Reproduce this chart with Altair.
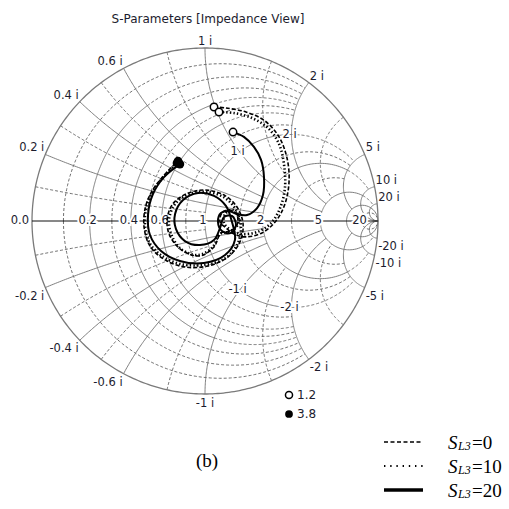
import numpy as np
import pandas as pd
import altair as alt

TITLE = "S-Parameters [Impedance View]"

# ---- Smith chart grid -------------------------------------------------------
# constant-resistance circles: value, |x| start, |x| end, line style
R_VAL = [0.1, 0.2, 0.2, 0.3, 0.4, 0.4, 0.5, 0.6, 0.6, 0.8, 1.0, 1.0, 1.5, 2.0, 2.0, 3.0, 5.0, 5.0, 10.0, 20.0]
R_LO  = [0.0, 0.0, 0.6, 0.0, 0.0, 1.0, 0.0, 0.0, 1.0, 0.0, 0.0, 2.0, 0.0, 0.0, 5.0, 0.0, 0.0, 10.0, 0.0, 0.0]
R_HI  = [2.0, 0.6, 2.0, 2.0, 1.0, 2.0, 2.0, 1.0, 2.0, 2.0, 2.0, 5.0, 5.0, 5.0, 10.0, 5.0, 10.0, 20.0, np.inf, np.inf]
R_STY = ["d", "s", "d", "d", "s", "d", "d", "s", "d", "d", "s", "d", "d", "s", "d", "d", "s", "d", "s", "d"]

# constant-reactance arcs: value, r start, r end, line style
X_VAL = [0.1, 0.2, 0.3, 0.4, 0.5, 0.6, 0.8, 1.0, 1.5, 2.0, 3.0, 5.0, 10.0, 20.0]
X_LO  = [0.0] * 14
X_HI  = [1.0, 2.0, 1.0, 2.0, 1.0, 2.0, 1.0, 5.0, 2.0, 5.0, 5.0, 10.0, np.inf, np.inf]
X_STY = ["d", "s", "d", "s", "d", "s", "d", "s", "d", "s", "d", "s", "s", "s"]

# labels
REAL_LABELS = ["0.0", "0.2", "0.4", "0.6", "1", "2", "5", "20"]
REAL_VALUES = [0.0, 0.2, 0.4, 0.6, 1.0, 2.0, 5.0, 20.0]
EDGE_X = [0.2, 0.4, 0.6, 1, 2, 5, 10, 20]
INNER_X = [1, 2, -1, -2]

# ---- S-parameter traces (reflection coefficient, real / imaginary) ---------
S0_RE = [0.052, 0.121, 0.237, 0.347, 0.428, 0.474, 0.486, 0.462, 0.410, 0.329, 0.237, 0.168, 0.121,
         0.087, 0.098, 0.145, 0.185, 0.185, 0.145, 0.092,
         0.052, -0.029, -0.127, -0.197, -0.220, -0.191, -0.110, 0.000, 0.110, 0.185, 0.220, 0.202,
         0.133, 0.017, -0.116, -0.231, -0.318, -0.353, -0.341, -0.295, -0.225, -0.156]
S0_IM = [0.659, 0.653, 0.630, 0.578, 0.486, 0.364, 0.231, 0.098, 0.000, -0.069, -0.092, -0.075, -0.040,
         -0.006, 0.046, 0.064, 0.035, -0.023, -0.058, -0.069,
         -0.150, -0.202, -0.173, -0.098, -0.006, 0.092, 0.156, 0.179, 0.150, 0.081, -0.017, -0.121,
         -0.208, -0.260, -0.266, -0.225, -0.145, -0.029, 0.092, 0.191, 0.277, 0.347]

S10_RE = [0.081, 0.168, 0.272, 0.364, 0.428, 0.457, 0.462, 0.434, 0.382, 0.301, 0.214, 0.150,
          0.110, 0.116, 0.156, 0.191, 0.185, 0.139, 0.087,
          0.040, -0.040, -0.139, -0.191, -0.208, -0.173, -0.092, 0.012, 0.116, 0.179, 0.208, 0.185,
          0.110, -0.006, -0.139, -0.249, -0.324, -0.347, -0.335, -0.289, -0.225, -0.162]
S10_IM = [0.630, 0.624, 0.595, 0.538, 0.445, 0.324, 0.191, 0.075, -0.012, -0.064, -0.075, -0.052,
          -0.012, 0.040, 0.064, 0.029, -0.029, -0.064, -0.075,
          -0.156, -0.197, -0.162, -0.087, 0.006, 0.098, 0.156, 0.168, 0.133, 0.064, -0.035, -0.139,
          -0.220, -0.254, -0.249, -0.202, -0.121, -0.017, 0.098, 0.191, 0.272, 0.335]

S20_RE = [0.162, 0.225, 0.283, 0.324, 0.341, 0.335, 0.301, 0.243, 0.185, 0.139,
          0.092, 0.075, 0.098, 0.150, 0.179, 0.156, 0.110, 0.087,
          0.052, -0.029, -0.116, -0.168, -0.173, -0.127, -0.040, 0.052, 0.121,
          0.156, 0.173, 0.116, -0.006, -0.145, -0.254, -0.318, -0.329, -0.301, -0.237, -0.145]
S20_IM = [0.514, 0.486, 0.428, 0.353, 0.254, 0.150, 0.075, 0.035, 0.040, 0.058,
          0.046, -0.006, -0.058, -0.069, -0.023, 0.029, 0.023, -0.040,
          -0.110, -0.139, -0.116, -0.046, 0.040, 0.121, 0.162, 0.145, 0.087,
          -0.006, -0.110, -0.197, -0.243, -0.231, -0.173, -0.081, 0.040, 0.156, 0.254, 0.329]

SERIES = [("S0", S0_RE, S0_IM), ("S10", S10_RE, S10_IM), ("S20", S20_RE, S20_IM)]


def gamma(z):
    return (z - 1) / (z + 1)


def sweep(lo, hi, n=160):
    t = np.linspace(np.arctan(lo), min(np.arctan(hi), np.pi / 2 - 1e-5), n)
    return np.tan(t)


grid_rows = []
seg_id = [0]


def add_seg(pts, style):
    for i, p in enumerate(pts):
        grid_rows.append({"gre": p.real, "gim": p.imag, "seg": seg_id[0], "i": i, "style": style})
    seg_id[0] += 1


for r, lo, hi, st in zip(R_VAL, R_LO, R_HI, R_STY):
    xs = sweep(lo, hi)
    add_seg(gamma(r + 1j * xs), st)
    add_seg(gamma(r - 1j * xs), st)

for xv, lo, hi, st in zip(X_VAL, X_LO, X_HI, X_STY):
    rs = sweep(lo, hi)
    add_seg(gamma(rs + 1j * xv), st)
    add_seg(gamma(rs - 1j * xv), st)

theta = np.linspace(0, 2 * np.pi, 400)
add_seg(np.exp(1j * theta), "outer")
add_seg(np.array([-1 + 0j, 1 + 0j]), "axis")

grid = pd.DataFrame(grid_rows)

xs_scale = alt.Scale(domain=[-205 / 173, 304 / 173], nice=False, zero=False)
ys_scale = alt.Scale(domain=[-288 / 173, 221 / 173], nice=False, zero=False)
X = alt.X("gre:Q", scale=xs_scale, axis=None)
Y = alt.Y("gim:Q", scale=ys_scale, axis=None)


def grid_layer(style, **kw):
    return alt.Chart(grid[grid["style"] == style]).mark_line(**kw).encode(
        x=X, y=Y, detail="seg:N", order="i:Q")


layers = [
    grid_layer("d", color="#4a4a4a", strokeWidth=0.8, strokeDash=[3, 2]),
    grid_layer("s", color="#707070", strokeWidth=0.9),
    grid_layer("outer", color="#7a7a7a", strokeWidth=1.3),
    grid_layer("axis", color="#111111", strokeWidth=1.0),
]

# ---- labels -----------------------------------------------------------------
TXT = "#1c1c2e"
FONT = "DejaVu Sans"
FS = 11.5


def fmt_x(v):
    return f"{v:g} i"


edge = []
for v in EDGE_X:
    for s in (1, -1):
        g = gamma(1j * v * s)
        if abs(g.real) < 1e-9:
            grp = "top" if s > 0 else "bottom"
        else:
            grp = ("L" if g.real < 0 else "R") + ("U" if s > 0 else "D")
        edge.append({"gre": g.real, "gim": g.imag, "text": fmt_x(v * s), "grp": grp})
edge = pd.DataFrame(edge)

group_style = {
    "LU": dict(align="right", baseline="bottom", dx=-1, dy=-1),
    "LD": dict(align="right", baseline="top", dx=-1, dy=3),
    "RU": dict(align="left", baseline="bottom", dx=1, dy=-1),
    "RD": dict(align="left", baseline="top", dx=1, dy=3),
    "top": dict(align="center", baseline="bottom", dy=-1),
    "bottom": dict(align="center", baseline="top", dy=4),
}
for grp, st in group_style.items():
    layers.append(alt.Chart(edge[edge["grp"] == grp]).mark_text(
        font=FONT, fontSize=FS, color=TXT, **st).encode(x=X, y=Y, text="text:N"))

real_df = pd.DataFrame({"gre": [gamma(r).real for r in REAL_VALUES], "gim": 0.0, "text": REAL_LABELS})
inner_df = pd.DataFrame({"gre": [gamma(1 + 1j * v).real for v in INNER_X],
                         "gim": [gamma(1 + 1j * v).imag for v in INNER_X],
                         "text": [fmt_x(v) for v in INNER_X]})
halo = pd.concat([real_df.iloc[1:], inner_df])
layers.append(alt.Chart(halo).mark_text(font=FONT, fontSize=FS, baseline="middle", dx=-2,
                                        color="white", stroke="white", strokeWidth=4).encode(x=X, y=Y, text="text:N"))
layers.append(alt.Chart(halo).mark_text(font=FONT, fontSize=FS, baseline="middle", dx=-2,
                                        color=TXT).encode(x=X, y=Y, text="text:N"))
layers.append(alt.Chart(real_df.iloc[:1]).mark_text(font=FONT, fontSize=FS, baseline="middle", align="right",
                                                    dx=-3, color=TXT).encode(x=X, y=Y, text="text:N"))

# ---- traces -----------------------------------------------------------------
trace_rows = []
for name, re, im in SERIES:
    for i, (a, b) in enumerate(zip(re, im)):
        trace_rows.append({"gre": a, "gim": b, "i": i, "series": name})
traces = pd.DataFrame(trace_rows)

styles = {
    "S0": dict(strokeWidth=1.6, strokeDash=[4, 2]),
    "S10": dict(strokeWidth=2.6, strokeDash=[1.4, 2.2]),
    "S20": dict(strokeWidth=2.0),
}
for name, st in styles.items():
    layers.append(alt.Chart(traces[traces["series"] == name]).mark_line(
        color="black", interpolate="catmull-rom", **st).encode(x=X, y=Y, order="i:Q"))

starts = traces.groupby("series").head(1)
ends = traces.groupby("series").tail(1)
layers.append(alt.Chart(ends).mark_point(shape="circle", size=75, filled=True, color="black", opacity=1).encode(x=X, y=Y))
layers.append(alt.Chart(starts).mark_point(shape="circle", size=55, filled=True, fill="white", stroke="black",
                                           strokeWidth=1.5, opacity=1).encode(x=X, y=Y))

# ---- title, marker key, caption, line legend -------------------------------
def txt(s, x, y, **kw):
    base = dict(font=FONT, fontSize=12, color=TXT, baseline="middle")
    base.update(kw)
    return alt.Chart(pd.DataFrame({"t": [s]})).mark_text(**base).encode(
        x=alt.value(x), y=alt.value(y), text="t:N")


layers.append(txt(TITLE, 208, 19, align="center"))
layers.append(alt.Chart(pd.DataFrame({"k": [0]})).mark_point(shape="circle", size=50, filled=True, fill="white",
                                                              stroke="black", strokeWidth=1.5, opacity=1).encode(
    x=alt.value(289), y=alt.value(395)))
layers.append(alt.Chart(pd.DataFrame({"k": [0]})).mark_point(shape="circle", size=60, filled=True, color="black",
                                                              opacity=1).encode(x=alt.value(289), y=alt.value(414)))
layers.append(txt("1.2", 297, 395, align="left"))
layers.append(txt("3.8", 297, 414, align="left"))
layers.append(txt("(b)", 207, 461, align="center", font="Liberation Serif", fontSize=19, color="black"))

LEG_Y = [442, 466, 490]
LEG_TEXT = ["=0", "=10", "=20"]
leg_line = {
    0: dict(strokeWidth=1.6, strokeDash=[4, 2.5]),
    1: dict(strokeWidth=2.2, strokeDash=[1.4, 4.8]),
    2: dict(strokeWidth=3.5),
}
SERIF = "Liberation Serif"
for k, y in enumerate(LEG_Y):
    layers.append(alt.Chart(pd.DataFrame({"k": [k]})).mark_rule(color="black", **leg_line[k]).encode(
        x=alt.value(384), x2=alt.value(423), y=alt.value(y)))
    layers.append(txt("S", 448, y + 1, align="left", font=SERIF, fontSize=19, fontStyle="italic", color="black"))
    layers.append(txt("L3", 458, y + 4, align="left", font=SERIF, fontSize=12, fontStyle="italic", color="black"))
    layers.append(txt(LEG_TEXT[k], 472, y + 1, align="left", font=SERIF, fontSize=19, color="black"))

chart = alt.layer(*layers).properties(width=509, height=509, padding=0, autosize="none").configure_view(stroke=None)
chart.save("out.html", embed_options={"renderer": "svg", "actions": False})
